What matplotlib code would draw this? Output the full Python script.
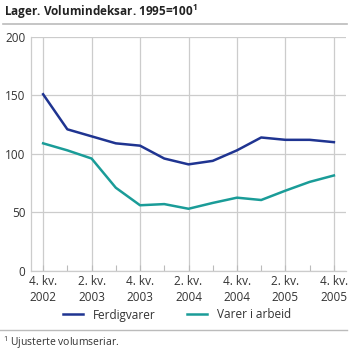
import matplotlib
matplotlib.use("Agg")
import matplotlib.pyplot as plt
from matplotlib.lines import Line2D

plt.rcParams['font.family'] = ['Open Sans', 'DejaVu Sans']
plt.rcParams['mathtext.fontset'] = 'custom'
plt.rcParams['mathtext.rm'] = 'Open Sans'
plt.rcParams['mathtext.bf'] = 'Open Sans:bold'

quarters = ["4. kv.\n2002", "1. kv.\n2003", "2. kv.\n2003", "3. kv.\n2003", "4. kv.\n2003",
            "1. kv.\n2004", "2. kv.\n2004", "3. kv.\n2004", "4. kv.\n2004",
            "1. kv.\n2005", "2. kv.\n2005", "3. kv.\n2005", "4. kv.\n2005"]
ferdigvarer = [151, 121, 115, 109, 107, 96, 91, 94, 103, 114, 112, 112, 110]
varer_i_arbeid = [109, 103, 96, 71, 56, 57, 53, 58, 62.5, 60.5, 68.5, 76, 81.5]
series_names = ["Ferdigvarer", "Varer i arbeid"]
colors = ["#1f3491", "#1a9c98"]
yticks = [0, 50, 100, 150, 200]

fig = plt.figure(figsize=(3.58, 3.52), dpi=100)
W, H = 358, 352
ax = fig.add_axes([31 / W, 1 - 270.7 / H, (346 - 31) / W, (270.7 - 37) / H])

x = list(range(len(quarters)))
ax.plot(x, ferdigvarer, color=colors[0], lw=1.8, solid_joinstyle='round')
ax.plot(x, varer_i_arbeid, color=colors[1], lw=1.8, solid_joinstyle='round')

ax.set_xlim(-0.5, 12.5)
ax.set_ylim(0, 200)
ax.set_yticks(yticks)
ax.set_yticklabels([str(v) for v in yticks], fontsize=8.5, color="#333333")
major = x[::2]
ax.set_xticks(major)
ax.set_xticklabels([quarters[i] for i in major], fontsize=8.5, color="#333333", linespacing=1.35)
ax.set_xticks(x[1::2], minor=True)
ax.tick_params(axis='x', which='both', direction='in', length=4, color="#bbbbbb", width=0.8, pad=3)
ax.tick_params(axis='y', length=0, pad=4)
ax.grid(True, axis='both', which='major', color="#cccccc", lw=0.9)
ax.set_axisbelow(True)
for s in ['top', 'right']:
    ax.spines[s].set_visible(False)
for s in ['left', 'bottom']:
    ax.spines[s].set_color("#cccccc")
    ax.spines[s].set_linewidth(0.9)

fig.text(4 / W, 1 - 12 / H, r"Lager. Volumindeksar. 1995=100$^\mathbf{1}$", fontsize=8.5, fontweight='bold',
         va='center', ha='left', color="#222222")
fig.add_artist(Line2D([3 / W, 347 / W], [1 - 24 / H, 1 - 24 / H], color="#bbbbbb", lw=1.2))

handles = [Line2D([0], [0], color=c, lw=1.8) for c in colors]
fig.legend(handles, series_names, loc='center', bbox_to_anchor=(177 / W, 1 - 315 / H), ncol=2,
           frameon=False, fontsize=8.5, handlelength=1.7, columnspacing=2.7, handletextpad=0.85,
           labelcolor="#333333")

fig.add_artist(Line2D([0, 347 / W], [1 - 330 / H, 1 - 330 / H], color="#bbbbbb", lw=1.0))
fig.text(3 / W, 1 - 343 / H, "$^1$ Ujusterte volumseriar.", fontsize=7.5, va='center', ha='left', color="#333333")

fig.savefig("out.png", dpi=100)
